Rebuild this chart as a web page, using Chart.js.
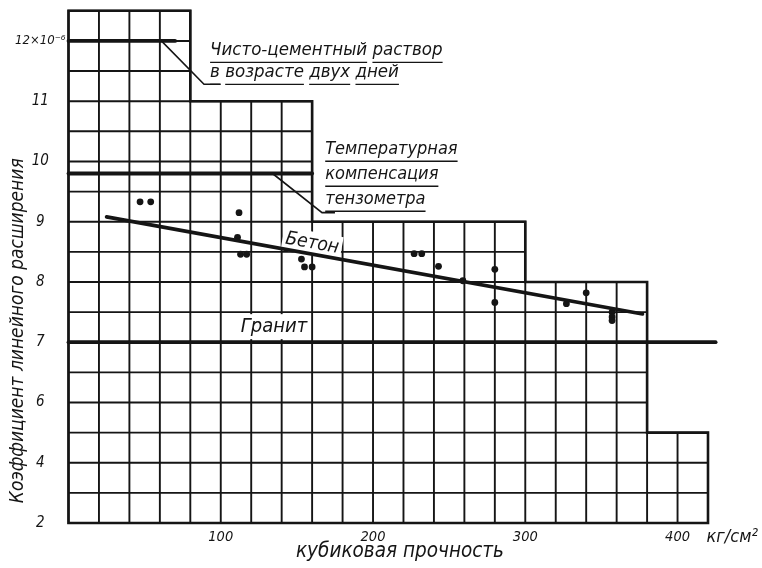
<!DOCTYPE html>
<html>
<head>
<meta charset="utf-8">
<script src="https://cdn.jsdelivr.net/npm/chart.js@4.4.1/dist/chart.umd.min.js"></script>
<style>
html,body{margin:0;padding:0;background:#fff;}
#wrap{width:762px;height:568px;}
</style>
</head>
<body>
<div id="wrap"><canvas id="c" width="762" height="568"></canvas></div>
<script>
// ---------- data ----------
const strengthPoints = [47, 54, 112, 111, 113, 117, 153, 155, 160, 227, 232, 243, 259, 280, 280, 327, 340, 357, 357, 357];
const coefPoints     = [9.33, 9.33, 9.15, 8.74, 8.46, 8.46, 8.38, 8.25, 8.25, 8.47, 8.47, 8.26, 8.02, 8.21, 7.66, 7.64, 7.82, 7.5, 7.42, 7.36];
const concreteLineX  = [25, 377];
const concreteLineY  = [9.08, 7.47];
const cementLineX    = [0, 70];
const cementLineY    = [12, 12];
const tempLineX      = [0, 160];
const tempLineY      = [9.8, 9.8];
const graniteLineX   = [0, 425];
const graniteLineY   = [7, 7];
const xTickValues    = [100, 200, 300, 400];
const yTickValues    = [2, 4, 6, 7, 8, 9, 10, 11, 12];
const yTickLabels    = ['2', '4', '6', '7', '8', '9', '10', '11', '12×10⁻⁶'];
const gridStepsX     = [0, 80, 160, 300, 380, 420];
const gridStepsTop   = [12.5, 11, 9, 8, 5];
const hGridValues    = [2, 3, 4, 5, 6, 6.5, 7, 7.5, 8, 8.5, 9, 9.5, 10, 10.5, 11, 11.5, 12, 12.5];
const labelCement    = ['Чисто-цементный раствор', 'в возрасте двух дней'];
const labelTemp      = ['Температурная', 'компенсация', 'тензометра'];
const labelConcrete  = 'Бетон';
const labelGranite   = 'Гранит';
const titleY         = 'Коэффициент линейного расширения';
const titleX         = 'кубиковая прочность';
const unitX          = 'кг/см²';

// ---------- style / layout ----------
const INK = '#151515';
const FONT = "'DejaVu Sans Condensed','Liberation Sans Narrow','DejaVu Sans',sans-serif";
// axis below 6 is compressed by half
const tr = v => v >= 6 ? v : 6 - (6 - v) / 2;

const notes = [
  {lines: labelCement, x: 93, y: 11.76, gap: 22, size: 18.5},
  {lines: labelTemp, x: 168.6, y: 10.12, gap: 25, size: 18}
];
const leaders = [
  [[61, 12], [89, 11.28], [100, 11.28]],
  [[134, 9.8], [166.5, 9.15], [175, 9.15]]
];
const tags = [
  {text: labelConcrete, x: 160, y: 8.64, size: 19, slope: true},
  {text: labelGranite, x: 135, y: 7.26, size: 20, slope: false}
];

const gridPlugin = {
  id: 'stepGrid',
  beforeDatasetsDraw(chart) {
    const {ctx, scales: {x, y}} = chart;
    const px = v => x.getPixelForValue(v), py = v => y.getPixelForValue(tr(v));
    ctx.save();
    ctx.strokeStyle = INK;
    ctx.lineCap = 'square';
    ctx.lineWidth = 1.9;
    const topAt = xv => {
      let m = -Infinity;
      for (let i = 0; i < gridStepsTop.length; i++) {
        if (xv >= gridStepsX[i] - 1e-6 && xv <= gridStepsX[i + 1] + 1e-6) m = Math.max(m, gridStepsTop[i]);
      }
      return m;
    };
    const xEnd = gridStepsX[gridStepsX.length - 1];
    ctx.beginPath();
    for (let xv = gridStepsX[0]; xv <= xEnd + 1e-6; xv += 20) {
      ctx.moveTo(px(xv), py(hGridValues[0]));
      ctx.lineTo(px(xv), py(topAt(xv)));
    }
    hGridValues.forEach(hv => {
      let r = 0;
      for (let i = 0; i < gridStepsTop.length; i++) if (gridStepsTop[i] >= hv - 1e-6) r = Math.max(r, gridStepsX[i + 1]);
      ctx.moveTo(px(0), py(hv));
      ctx.lineTo(px(r), py(hv));
    });
    ctx.stroke();
    // outline
    ctx.lineWidth = 2.6;
    ctx.lineJoin = 'miter';
    ctx.beginPath();
    ctx.moveTo(px(0), py(hGridValues[0]));
    ctx.lineTo(px(0), py(gridStepsTop[0]));
    for (let i = 0; i < gridStepsTop.length; i++) {
      ctx.lineTo(px(gridStepsX[i]), py(gridStepsTop[i]));
      ctx.lineTo(px(gridStepsX[i + 1]), py(gridStepsTop[i]));
    }
    ctx.lineTo(px(xEnd), py(hGridValues[0]));
    ctx.closePath();
    ctx.stroke();

    // tags with white backing
    tags.forEach(t => {
      ctx.save();
      ctx.font = `italic ${t.size}px ${FONT}`;
      ctx.translate(px(t.x), py(t.y));
      if (t.slope) {
        const a = Math.atan2(py(concreteLineY[1]) - py(concreteLineY[0]), px(concreteLineX[1]) - px(concreteLineX[0]));
        ctx.rotate(a);
      }
      const w = ctx.measureText(t.text).width;
      ctx.fillStyle = '#fff';
      ctx.fillRect(-w / 2 - 3, -t.size * 0.62, w + 6, t.size * 1.25);
      ctx.fillStyle = INK;
      ctx.textAlign = 'center';
      ctx.textBaseline = 'middle';
      ctx.fillText(t.text, 0, 0);
      ctx.restore();
    });
    ctx.restore();
  },
  afterDatasetsDraw(chart) {
    const {ctx, scales: {x, y}} = chart;
    const px = v => x.getPixelForValue(v), py = v => y.getPixelForValue(tr(v));
    ctx.save();
    ctx.strokeStyle = INK;
    ctx.fillStyle = INK;
    // leader lines
    ctx.lineWidth = 1.6;
    leaders.forEach(pts => {
      ctx.beginPath();
      pts.forEach((p, i) => i ? ctx.lineTo(px(p[0]), py(p[1])) : ctx.moveTo(px(p[0]), py(p[1])));
      ctx.stroke();
    });
    // multi-line notes, underlined word by word
    notes.forEach(n => {
      ctx.font = `italic ${n.size}px ${FONT}`;
      ctx.textAlign = 'left';
      ctx.textBaseline = 'alphabetic';
      const x0 = px(n.x), y0 = py(n.y);
      ctx.lineWidth = 1.4;
      n.lines.forEach((line, li) => {
        const by = y0 + li * n.gap;
        ctx.fillText(line, x0, by);
        let cx = x0;
        const sp = ctx.measureText(' ').width;
        ctx.beginPath();
        line.split(' ').forEach(word => {
          const w = ctx.measureText(word).width;
          ctx.moveTo(cx, by + 7);
          ctx.lineTo(cx + w, by + 7);
          cx += w + sp;
        });
        ctx.stroke();
      });
    });
    // axis titles
    ctx.font = `italic 19px ${FONT}`;
    ctx.textAlign = 'center';
    ctx.textBaseline = 'middle';
    ctx.save();
    ctx.translate(x.left - 50.5, py(7.19));
    ctx.rotate(-Math.PI / 2);
    ctx.fillText(titleY, 0, 0);
    ctx.restore();
    ctx.font = `italic 20.5px ${FONT}`;
    ctx.fillText(titleX, px(217.7), y.bottom + 29);
    ctx.font = `italic 18px ${FONT}`;
    ctx.textAlign = 'left';
    ctx.fillText(unitX, px(400) + 29, y.bottom + 14);
    ctx.restore();
  }
};

const lineDs = (xs, ys, w) => ({
  data: xs.map((v, i) => ({x: v, y: tr(ys[i])})),
  showLine: true, borderColor: INK, borderWidth: w, pointRadius: 0, clip: false, borderCapStyle: 'round'
});

new Chart(document.getElementById('c'), {
  type: 'scatter',
  data: {
    datasets: [
      lineDs(concreteLineX, concreteLineY, 3.6),
      lineDs(cementLineX, cementLineY, 3.8),
      lineDs(tempLineX, tempLineY, 3.8),
      lineDs(graniteLineX, graniteLineY, 3.8),
      {
        data: strengthPoints.map((v, i) => ({x: v, y: tr(coefPoints[i])})),
        pointRadius: 3.4, pointBackgroundColor: INK, pointBorderWidth: 0, showLine: false
      }
    ]
  },
  options: {
    responsive: false,
    animation: false,
    devicePixelRatio: 1,
    layout: {padding: {left: 0, right: 54, top: 9.5, bottom: 0}},
    plugins: {legend: {display: false}, tooltip: {enabled: false}},
    scales: {
      x: {
        type: 'linear', min: 0, max: 420,
        grid: {display: false, drawTicks: false},
        border: {display: false},
        afterBuildTicks: s => { s.ticks = xTickValues.map(v => ({value: v})); },
        afterFit: s => { s.height = 45; },
        ticks: {color: INK, font: {family: FONT, size: 14.5, style: 'italic'}, padding: 6, maxRotation: 0, autoSkip: false}
      },
      y: {
        type: 'linear', min: 4, max: 12.5,
        grid: {display: false, drawTicks: false},
        border: {display: false},
        afterBuildTicks: s => { s.ticks = yTickValues.map(v => ({value: tr(v)})); },
        afterFit: s => { s.width = 68.5; },
        ticks: {
          color: INK, padding: 3, autoSkip: false,
          font: c => ({family: FONT, size: (c.tick && c.tick.value === 12) ? 13 : 15, style: 'italic'}),
          crossAlign: 'center',
          callback: (v, i) => yTickLabels[i]
        }
      }
    }
  },
  plugins: [gridPlugin]
});
</script>
</body>
</html>
